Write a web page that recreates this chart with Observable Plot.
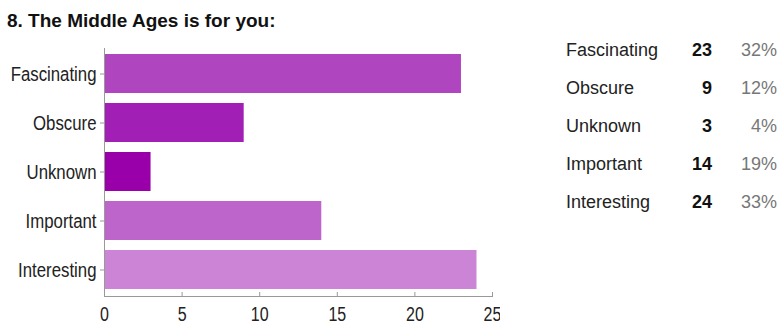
<!DOCTYPE html>
<html>
<head>
<meta charset="utf-8">
<script src="https://cdn.jsdelivr.net/npm/d3@7"></script>
<script src="https://cdn.jsdelivr.net/npm/@observablehq/plot@0.6"></script>
<style>
  body { margin: 0; background: #fff; width: 778px; height: 324px; position: relative; overflow: hidden; font-family: "Liberation Sans", Arial, sans-serif; }
  #title { height: 36px; box-sizing: border-box; padding: 10px 0 0 7px; font-size: 19px; line-height: 22px; font-weight: bold; color: #111; }
  #chart svg { display: block; }
  #table { position: absolute; left: 566px; top: 31px; display: grid; grid-template-columns: 100px 46px 65px; font-size: 18px; line-height: 38px; }
  #table .lab { color: #222; }
  #table .cnt { color: #111; font-weight: bold; text-align: right; }
  #table .pct { color: #777; text-align: right; }
</style>
</head>
<body>
<div id="title">8. The Middle Ages is for you:</div>
<div id="chart"></div>
<div id="table"></div>
<script>
const categories = ["Fascinating", "Obscure", "Unknown", "Important", "Interesting"];
const counts = [23, 9, 3, 14, 24];
const percents = ["32%", "12%", "4%", "19%", "33%"];
const xTicks = [0, 5, 10, 15, 20, 25];

const data = categories.map((c, i) => ({category: c, count: counts[i]}));
const palette = ["#b045c0", "#a11fb4", "#9a00aa", "#be65cb", "#cc84d6"];

const H = 288, MT = 12, MB = 28;
const chart = Plot.plot({
  width: 500,
  height: H,
  marginTop: MT,
  marginBottom: MB,
  marginLeft: 104,
  marginRight: 8,
  style: {fontFamily: "'Liberation Sans', Arial, sans-serif", background: "#fff"},
  x: {domain: [0, 25], ticks: xTicks},
  y: {domain: categories, paddingInner: 0.2, paddingOuter: 0.12},
  color: {domain: categories, range: palette},
  marks: [
    Plot.barX(data, {x: "count", y: "category", fill: "category"}),
    Plot.ruleX([0], {stroke: "#999"}),
    Plot.frame({anchor: "bottom", stroke: "#999"}),
    Plot.ruleX(xTicks, {x: d => d, insetTop: H - MT - MB - 4, stroke: "#999"}),
    Plot.axisX({ticks: xTicks, tickSize: 0, tickPadding: 10, fontSize: 20, fill: "#222", label: null}),
    Plot.axisY({tickSize: 4, tickPadding: 4, fontSize: 21, fill: "#222", stroke: "#999", label: null})
  ]
});
// horizontally condense tick labels (the reference uses a narrow face)
chart.querySelectorAll('g[aria-label$="tick label"] text').forEach(t => {
  const tr = t.getAttribute("transform");
  if (tr) t.setAttribute("transform", tr + " scale(0.8,1)");
});
document.getElementById("chart").appendChild(chart);

const table = document.getElementById("table");
categories.forEach((c, i) => {
  const a = document.createElement("div"); a.className = "lab"; a.textContent = c;
  const b = document.createElement("div"); b.className = "cnt"; b.textContent = counts[i];
  const p = document.createElement("div"); p.className = "pct"; p.textContent = percents[i];
  table.append(a, b, p);
});
</script>
</body>
</html>
